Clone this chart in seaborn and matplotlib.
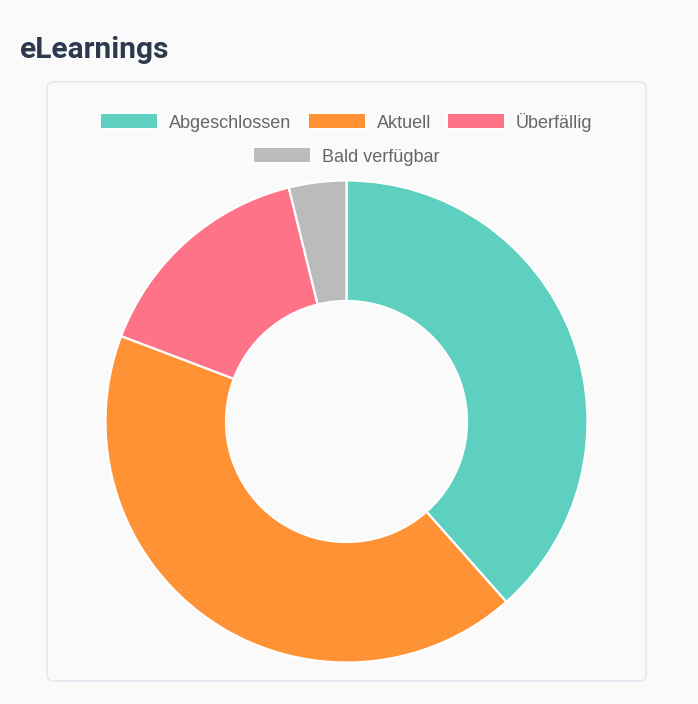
import matplotlib.pyplot as plt
import seaborn as sns
from matplotlib.patches import FancyBboxPatch, Rectangle

# Data
labels = ["Abgeschlossen", "Aktuell", "Überfällig", "Bald verfügbar"]
counts = [10, 11, 4, 1]
colors = ["#5dd0c0", "#ff9234", "#ff7388", "#bbbbbb"]
title = "eLearnings"

sns.set_theme(style="white")
plt.rcParams["font.family"] = ["Liberation Sans", "DejaVu Sans"]

W, H = 698, 704
bg = "#fafafa"
fig = plt.figure(figsize=(W / 100, H / 100), dpi=100, facecolor=bg)

# card frame (behind the chart)
card = FancyBboxPatch((47 / W, 1 - 681 / H), 599 / W, 599 / H,
                      boxstyle="round,pad=0,rounding_size=0.009",
                      transform=fig.transFigure, facecolor=bg,
                      edgecolor="#e2e4f0", linewidth=1.0, zorder=-5)
fig.patches.append(card)

# title
fig.text(20 / W, 1 - 58 / H, title, fontsize=21.5, fontweight="bold",
         family=["Roboto", "DejaVu Sans"], color="#2d3a4e", va="baseline", ha="left")

# doughnut
cx, cy, r = 346.5, 421.5, 241
ax = fig.add_axes([(cx - r) / W, (H - cy - r) / H, 2 * r / W, 2 * r / H], zorder=2)
ax.set_facecolor("none")
wedges, _ = ax.pie(counts, colors=colors, startangle=90, counterclock=False,
                   wedgeprops=dict(width=0.5, edgecolor="white", linewidth=1.6))
for w in wedges:
    w.set_clip_on(False)
ax.set_xlim(-1, 1)
ax.set_ylim(-1, 1)
ax.axis("off")

# legend, laid out in centred rows
fs = 13
box_w, box_h, gap, pad = 58, 15, 11, 16
max_w = 560
renderer = fig.canvas.get_renderer()
widths = []
for lab in labels:
    t = fig.text(0, 0, lab, fontsize=fs)
    widths.append(t.get_window_extent(renderer).width)
    t.remove()

rows, row, row_w = [], [], 0
for i, wd in enumerate(widths):
    item = box_w + gap + wd
    if row and row_w + pad + item > max_w:
        rows.append((row, row_w))
        row, row_w = [], 0
    row_w += (pad if row else 0) + item
    row.append(i)
rows.append((row, row_w))

row_y = [121, 155]
for (items, rw), yc in zip(rows, row_y):
    x = cx - rw / 2
    for i in items:
        fig.patches.append(Rectangle((x / W, 1 - (yc + box_h / 2) / H), box_w / W, box_h / H,
                                     transform=fig.transFigure, facecolor=colors[i],
                                     edgecolor="white", linewidth=1.4))
        fig.text((x + box_w + gap) / W, 1 - yc / H, labels[i], fontsize=fs,
                 color="#666666", va="center_baseline", ha="left")
        x += box_w + gap + widths[i] + pad

fig.savefig("out.png", dpi=100, facecolor=bg)
